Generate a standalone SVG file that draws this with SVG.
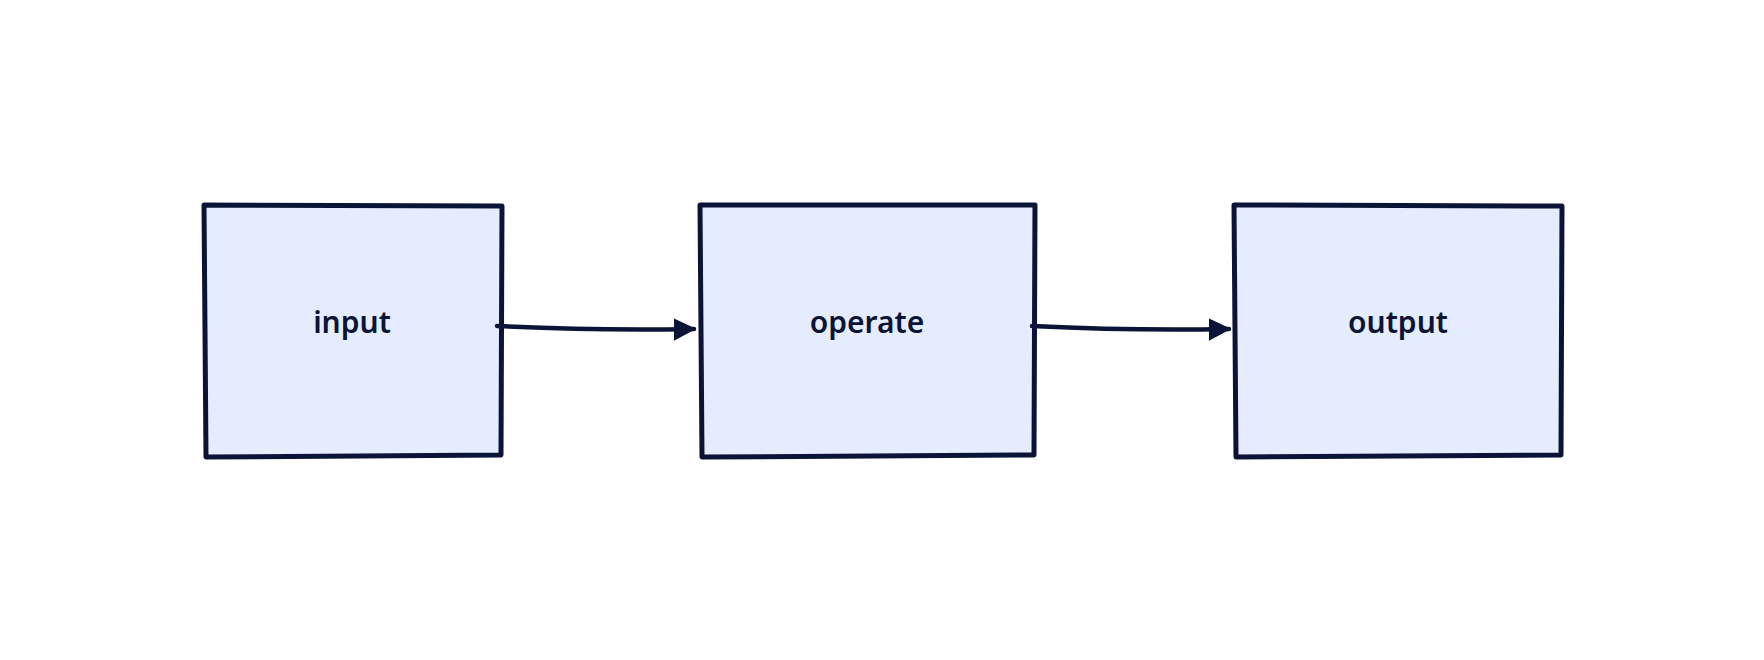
<svg xmlns="http://www.w3.org/2000/svg" width="1764" height="660" viewBox="0 0 1764 660">
<style>
.box{fill:#e4ecfd;stroke:#0b1437;stroke-width:5;stroke-linejoin:round}
.lbl{font-family:"Comic Sans MS","Noto Sans",sans-serif;font-weight:600;font-size:30px;fill:#0b1437;text-anchor:middle;dominant-baseline:middle}
.conn{fill:none;stroke:#0b1437;stroke-width:4.5;stroke-linecap:round}
</style>
<defs><marker id="ah" viewBox="0 0 10 10" refX="9" refY="5" markerWidth="5" markerHeight="5" orient="auto"><path d="M0,0 L10,5 L0,10 Z" fill="#0b1437"/></marker></defs>
<rect width="1764" height="660" fill="#fff"/>
<g id="input"><path class="box" d="M204,205 L502,206 L501,455 L206,457 Z"/><text class="lbl" x="352" y="325">input</text></g>
<g id="operate"><path class="box" d="M700,205 L1035,205 L1034,455 L702,457 Z"/><text class="lbl" x="867" y="325">operate</text></g>
<g id="output"><path class="box" d="M1234,205 L1562,206 L1561,455 L1236,457 Z"/><text class="lbl" x="1398" y="325">output</text></g>
<g id="connectors">
<path class="conn" d="M497,326 Q600,331 694,329" marker-end="url(#ah)"/>
<path class="conn" d="M1032,326 Q1135,331 1229,329" marker-end="url(#ah)"/>
</g>
</svg>
